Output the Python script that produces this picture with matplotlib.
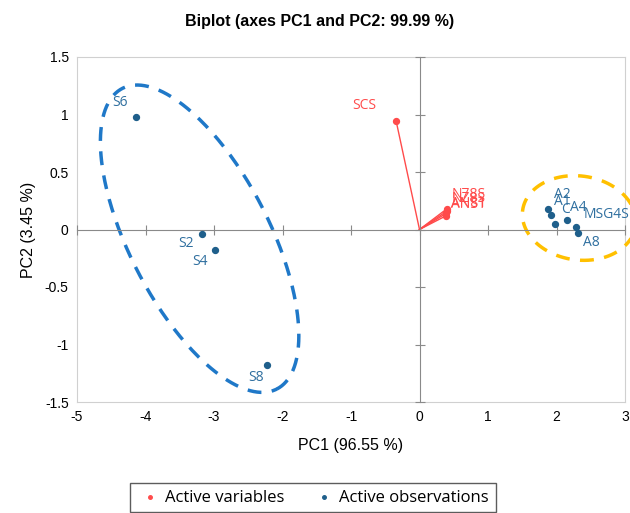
import numpy as np
import matplotlib.pyplot as plt

plt.rcParams['font.family'] = ['Liberation Sans', 'DejaVu Sans']
plt.rcParams['axes.unicode_minus'] = False

# observations (PC1, PC2)
obs_names = ['S6', 'S2', 'S4', 'S8', 'A2', 'A1', 'C', 'A4', 'MSG4S', 'A8']
obs_pc1 = [-4.14, -3.18, -2.99, -2.22, 1.88, 1.92, 1.98, 2.15, 2.28, 2.31]
obs_pc2 = [0.98, -0.035, -0.18, -1.18, 0.18, 0.13, 0.05, 0.08, 0.02, -0.03]

# variables (PC1, PC2)
var_names = ['SCS', 'N78S', 'NZ8S', 'AN81', 'ANS1']
var_pc1 = [-0.34, 0.40, 0.40, 0.39, 0.39]
var_pc2 = [0.94, 0.18, 0.16, 0.14, 0.12]

# label offsets in pixels (dx, dy)
obs_off = [(-16, 14), (-16, -10), (-15, -11), (-11, -12), (14, 14),
           (11, 13), (10, 14), (12, 13), (8, 13), (14, -10)]
var_off = [(-20, 16), (5, 14), (5, 13), (5, 10), (5, 11)]

red = '#ff4b4b'
blue = '#1f5f8b'
lblue = '#2f6f9f'

fig = plt.figure(figsize=(6.3, 5.13), dpi=100)
pos = [77 / 630, 1 - 402 / 513, 548 / 630, 345 / 513]
ax = fig.add_axes(pos)
ax.set_xlim(-5, 3)
ax.set_ylim(-1.5, 1.5)
ax.set_xticks(range(-5, 4))
ax.set_yticks([-1.5, -1, -0.5, 0, 0.5, 1, 1.5])
ax.set_yticklabels(['-1.5', '-1', '-0.5', '0', '0.5', '1', '1.5'])
ax.tick_params(length=0, labelsize=10, pad=6)
for s in ax.spines.values():
    s.set_color('#d0d0d0')

# zero axes with cross ticks
ax2 = fig.add_axes(pos, sharex=ax, sharey=ax)
ax2.patch.set_alpha(0)
ax2.spines['left'].set_position(('data', 0))
ax2.spines['bottom'].set_position(('data', 0))
ax2.spines['top'].set_visible(False)
ax2.spines['right'].set_visible(False)
for s in ['left', 'bottom']:
    ax2.spines[s].set_color('#8a8a8a')
ax2.tick_params(direction='inout', length=7, color='#8a8a8a',
                labelleft=False, labelbottom=False)

# variable vectors
for x, y in zip(var_pc1, var_pc2):
    ax2.plot([0, x], [0, y], color=red, lw=1)
ax2.scatter(var_pc1, var_pc2, s=18, color=red, zorder=3, label='Active variables')
for n, x, y, (dx, dy) in zip(var_names, var_pc1, var_pc2, var_off):
    ax2.annotate(n, (x, y), xytext=(dx, dy), textcoords='offset pixels',
                 color=red, fontsize=10, ha='left' if dx > 0 else 'right',
                 va='center', family=['Open Sans', 'DejaVu Sans'])

ax2.scatter(obs_pc1, obs_pc2, s=18, color=blue, zorder=3, label='Active observations')
for n, x, y, (dx, dy) in zip(obs_names, obs_pc1, obs_pc2, obs_off):
    ax2.annotate(n, (x, y), xytext=(dx, dy), textcoords='offset pixels',
                 color=lblue, fontsize=10, ha='center' if n != 'MSG4S' else 'left',
                 va='center', family=['Open Sans', 'DejaVu Sans'])

# ellipses (pixel-space shape converted to data units)
sx, sy = 548 / 8, 345 / 3


def ellipse(cx, cy, a, b, ang, color):
    t = np.linspace(0, 2 * np.pi, 300)
    th = np.radians(ang)
    u = a * np.cos(t) * np.cos(th) - b * np.sin(t) * np.sin(th)
    v = a * np.cos(t) * np.sin(th) + b * np.sin(t) * np.cos(th)
    ax2.plot(cx + u / sx, cy + v / sy, color=color, lw=2.5,
             ls=(0, (4, 3)), clip_on=False)


ellipse(-3.21, -0.08, 169, 70, -62.8, '#1f78c8')
ellipse(2.33, 0.10, 57, 42, -8, '#ffc000')

fig.suptitle('Biplot (axes PC1 and PC2: 99.99 %)', x=0.508, y=0.972,
             fontsize=11.5, fontweight='bold')
ax.set_xlabel('PC1 (96.55 %)', fontsize=11.5, labelpad=10)
ax.set_ylabel('PC2 (3.45 %)', fontsize=11.5, labelpad=6)

leg = ax2.legend(loc='upper left', bbox_to_anchor=(53 / 548, -81 / 345), ncol=2,
                 frameon=True, fancybox=False, edgecolor='#333333',
                 prop={'family': ['Open Sans', 'DejaVu Sans'], 'size': 12},
                 markerscale=0.6, handlelength=1.6, handletextpad=0.1,
                 columnspacing=1.6, borderpad=0.4, borderaxespad=0)
leg.get_frame().set_linewidth(1.0)

fig.savefig('out.png', dpi=100)
